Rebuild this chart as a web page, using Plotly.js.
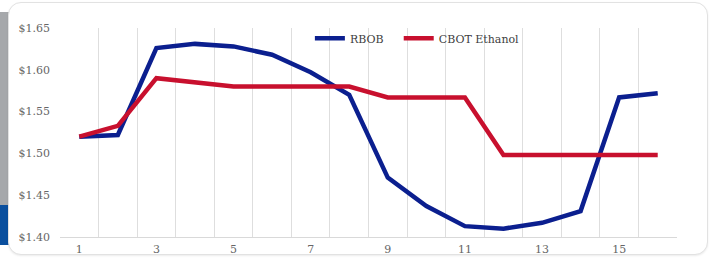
<!DOCTYPE html>
<html>
<head>
<meta charset="utf-8">
<script src="https://cdn.plot.ly/plotly-3.0.1.min.js"></script>
<style>
  html, body { margin: 0; padding: 0; width: 714px; height: 260px; background: #ffffff; overflow: hidden; }
  #grey { position: absolute; left: 0; top: 12px; width: 10px; height: 193px; background: #a6a8ab; }
  #blue { position: absolute; left: 0; top: 205px; width: 10px; height: 40px; background: #0a4f9e; }
  #card { position: absolute; left: 8px; top: 2px; width: 698px; height: 251px; background: #ffffff;
          border: 1px solid #e2e2e2; border-radius: 13px; box-shadow: 0 1px 2px rgba(0,0,0,0.08); }
  #chart { position: absolute; left: 0; top: 0; width: 714px; height: 260px; }
</style>
</head>
<body>
<div id="grey"></div>
<div id="blue"></div>
<div id="card"></div>
<div id="chart"></div>
<script>
const categories = [1,2,3,4,5,6,7,8,9,10,11,12,13,14,15,16];
const rbob =    [1.520,1.522,1.626,1.631,1.628,1.618,1.597,1.570,1.471,1.437,1.413,1.410,1.417,1.431,1.567,1.572];
const ethanol = [1.520,1.533,1.590,1.585,1.580,1.580,1.580,1.580,1.567,1.567,1.567,1.498,1.498,1.498,1.498,1.498];
const xTickVals = [1,3,5,7,9,11,13,15];
const xTickText = ['1','3','5','7','9','11','13','15'];
const yTickVals = [1.40,1.45,1.50,1.55,1.60,1.65];
const yTickText = ['$1.40','$1.45','$1.50','$1.55','$1.60','$1.65'];
const gridVals = categories.map(c => c - 0.5).concat([categories[categories.length-1] + 0.5]);

const font = {family: 'DejaVu Serif, serif', size: 11, color: '#666666'};
const legendFont = {family: 'DejaVu Serif, serif', size: 11, color: '#404040'};

const traces = [
  {x: categories, y: rbob, name: 'RBOB', type: 'scatter', mode: 'lines',
   line: {color: '#0b1f8f', width: 4.5}, legend: 'legend'},
  {x: categories, y: ethanol, name: 'CBOT Ethanol', type: 'scatter', mode: 'lines',
   line: {color: '#c8102e', width: 4.5}, legend: 'legend2'}
];

const layout = {
  width: 714, height: 260,
  margin: {l: 59.5, r: 37, t: 28, b: 23},
  paper_bgcolor: 'rgba(0,0,0,0)',
  plot_bgcolor: 'rgba(0,0,0,0)',
  font: font,
  showlegend: true,
  legend: {orientation: 'h', x: 0.405, y: 1.02, xanchor: 'left', yanchor: 'top',
           font: legendFont, bgcolor: 'rgba(0,0,0,0)', itemwidth: 30},
  legend2: {orientation: 'h', x: 0.549, y: 1.02, xanchor: 'left', yanchor: 'top',
           font: legendFont, bgcolor: 'rgba(0,0,0,0)', itemwidth: 30},
  xaxis: {range: [0.5, 16.5], tickvals: xTickVals, ticktext: xTickText,
          showgrid: false, zeroline: false, showline: true, linecolor: '#d9d9d9', linewidth: 1,
          ticks: '', tickfont: font, fixedrange: true, ticklabelstandoff: 2,
          minor: {tickvals: gridVals, showgrid: true, gridcolor: '#dedede', gridwidth: 1, ticks: ''}},
  yaxis: {range: [1.40, 1.65], tickvals: yTickVals, ticktext: yTickText,
          showgrid: false, zeroline: false, showline: false, ticks: '',
          tickfont: font, ticklabelstandoff: 9, fixedrange: true}
};

Plotly.newPlot('chart', traces, layout, {displayModeBar: false, staticPlot: true});
</script>
</body>
</html>
